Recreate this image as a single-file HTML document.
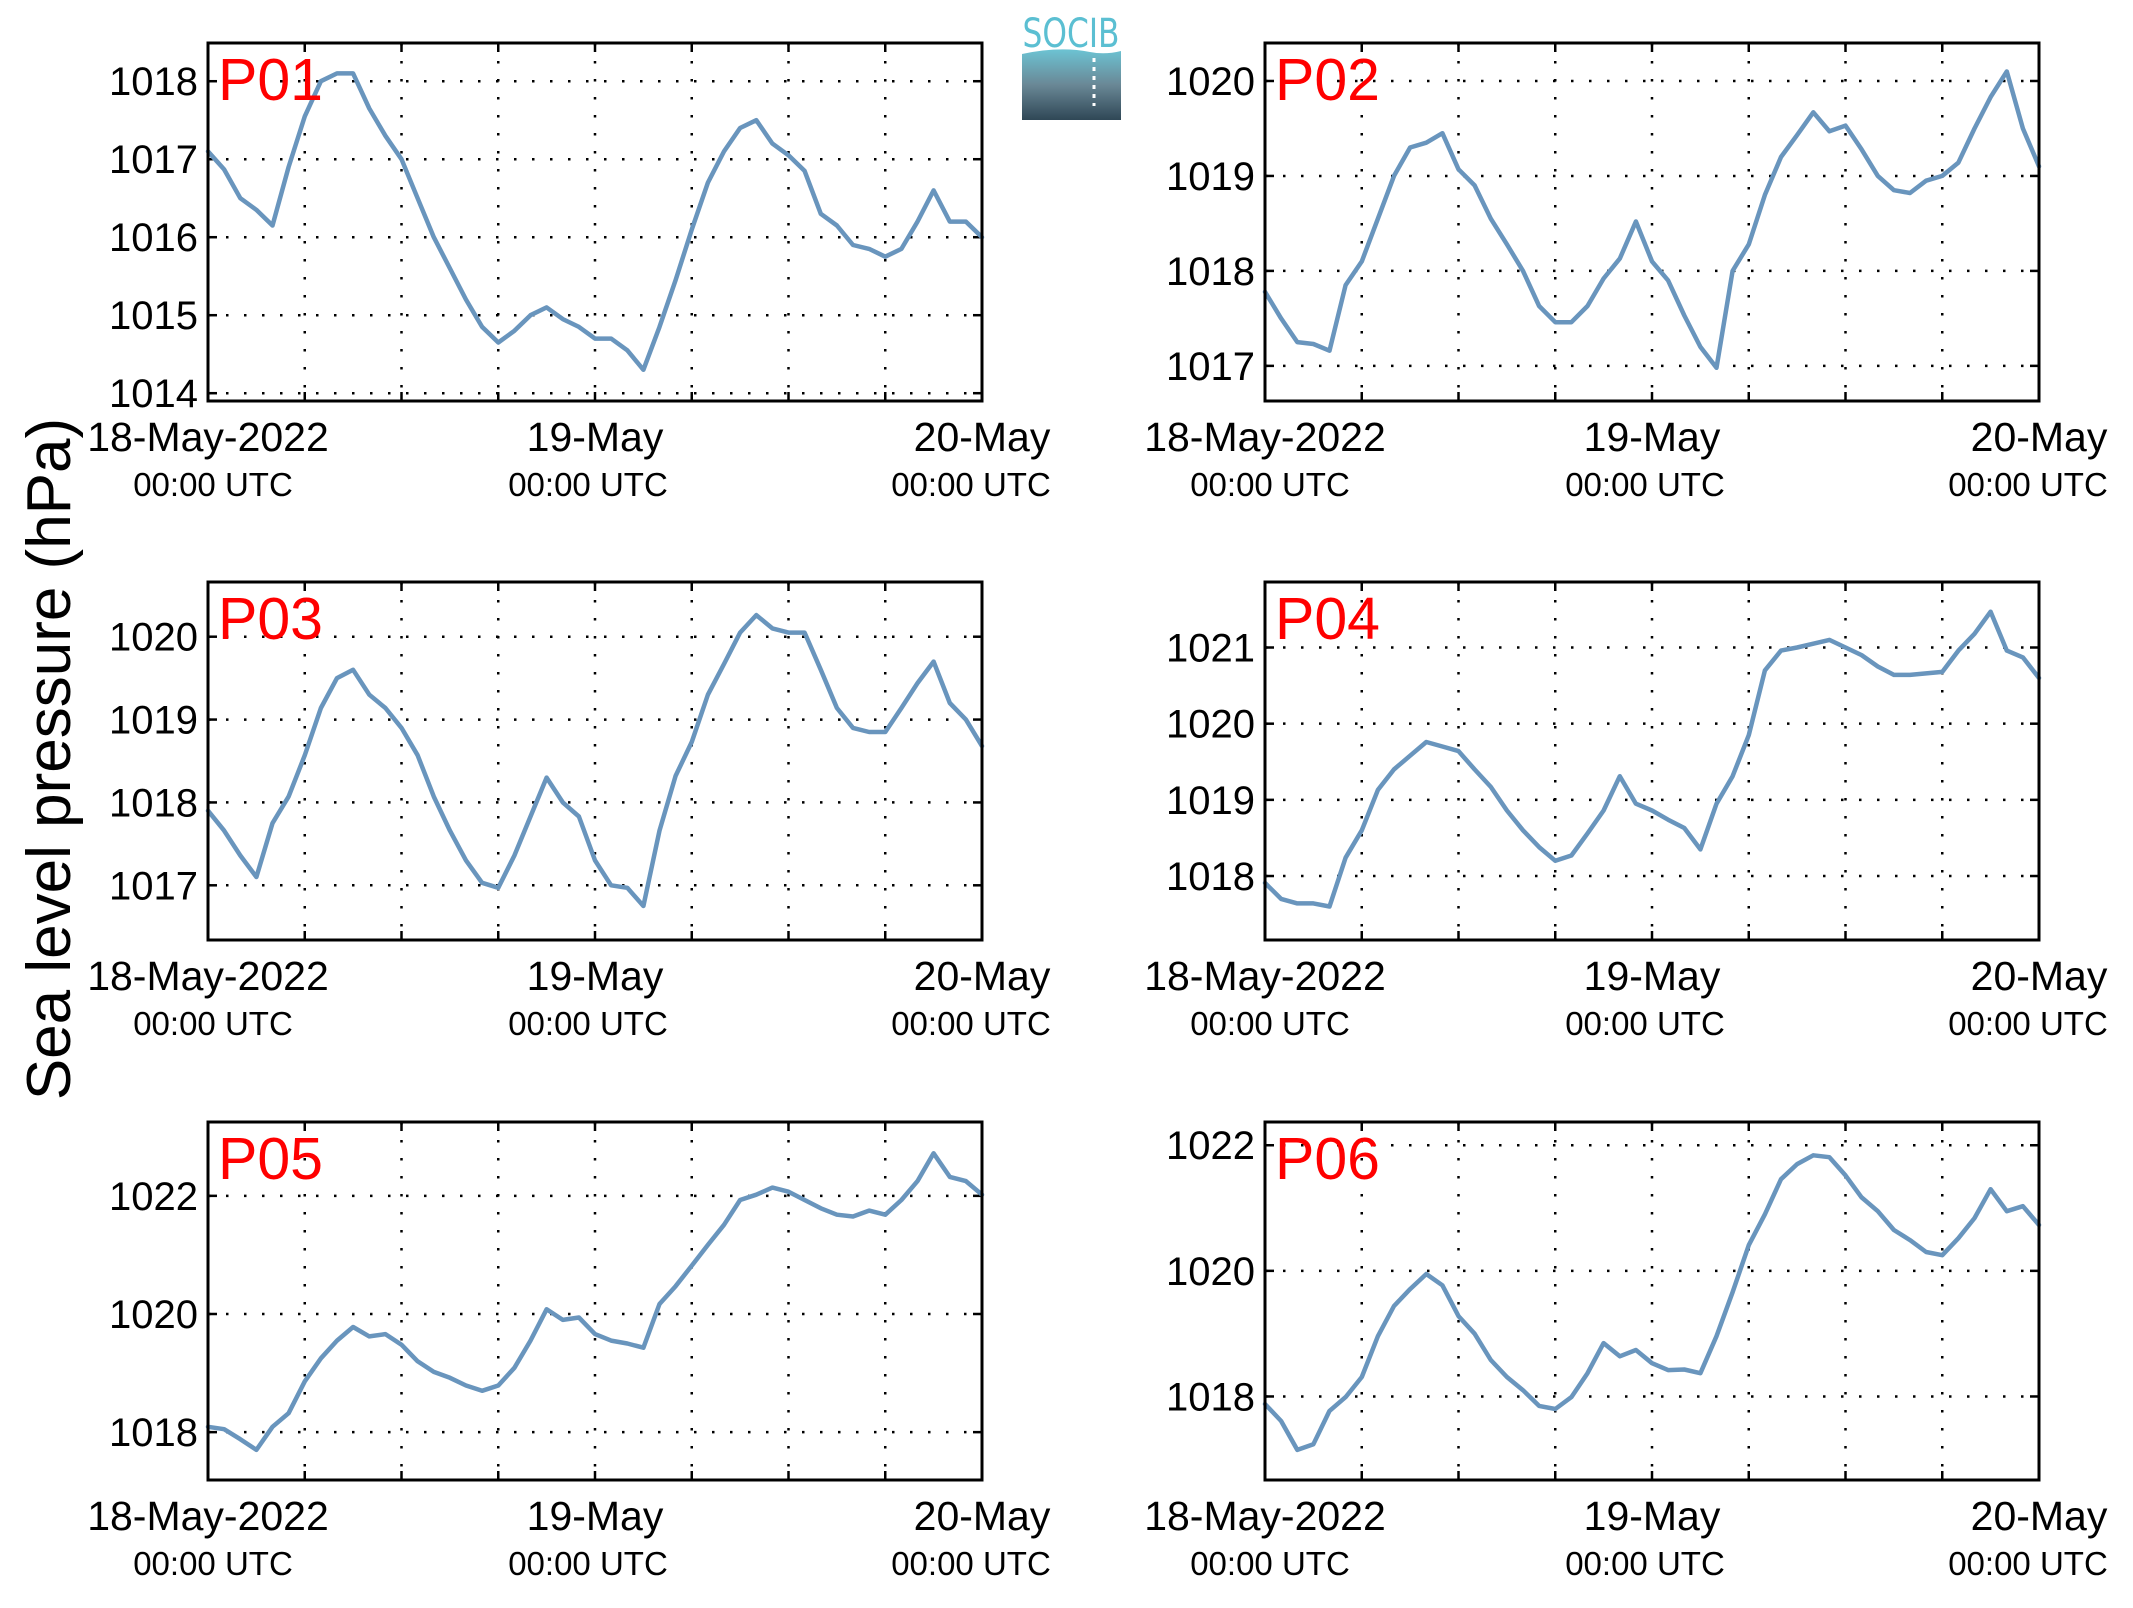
<!DOCTYPE html>
<html><head><meta charset="utf-8">
<style>
html,body{margin:0;padding:0;background:#fff;}
svg{display:block;font-family:"Liberation Sans",sans-serif;}
</style></head>
<body>
<svg id="fig" width="2133" height="1608" viewBox="0 0 2133 1608" xmlns="http://www.w3.org/2000/svg">
<defs>
<linearGradient id="lg" x1="0" y1="0" x2="0" y2="1">
<stop offset="0" stop-color="#6cc3d3"/><stop offset="0.5" stop-color="#6a8896"/><stop offset="1" stop-color="#2f4756"/>
</linearGradient>
</defs>
<g>
<text x="1071" y="47" font-size="40" fill="#5bbfd2" text-anchor="middle" font-family="DejaVu Sans, sans-serif" textLength="97" lengthAdjust="spacingAndGlyphs">SOCIB</text>
<path d="M1022 54 Q1060 46 1090 52 Q1105 55 1121 51 L1121 120 L1022 120 Z" fill="url(#lg)"/>
<line x1="1094" y1="58" x2="1094" y2="106" stroke="#fff" stroke-width="3" stroke-dasharray="4,5"/>
</g>
<text x="0" y="0" font-size="62" fill="#000" text-anchor="middle" transform="translate(70,759) rotate(-90)">Sea level pressure (hPa)</text>
<g id="panels"></g>
</svg>
<script>
const hours = [0,1,2,3,4,5,6,7,8,9,10,11,12,13,14,15,16,17,18,19,20,21,22,23,24,25,26,27,28,29,30,31,32,33,34,35,36,37,38,39,40,41,42,43,44,45,46,47,48];
const xTickHours = [0,24,48];
const xTickLabels = ["18-May-2022","19-May","20-May"];
const xTickSub = ["00:00 UTC","00:00 UTC","00:00 UTC"];
const panelNames = ["P01","P02","P03","P04","P05","P06"];
const p01 = [1017.1,1016.87,1016.5,1016.35,1016.15,1016.9,1017.55,1018.0,1018.1,1018.1,1017.65,1017.3,1017.0,1016.5,1016.0,1015.6,1015.2,1014.85,1014.65,1014.8,1015.0,1015.1,1014.95,1014.85,1014.7,1014.7,1014.55,1014.3,1014.85,1015.45,1016.1,1016.7,1017.1,1017.4,1017.5,1017.2,1017.05,1016.85,1016.3,1016.15,1015.9,1015.85,1015.75,1015.85,1016.2,1016.6,1016.2,1016.2,1016.0];
const p02 = [1017.78,1017.5,1017.25,1017.23,1017.16,1017.85,1018.1,1018.55,1019.0,1019.3,1019.35,1019.45,1019.07,1018.9,1018.55,1018.28,1018.0,1017.63,1017.46,1017.46,1017.63,1017.92,1018.13,1018.52,1018.1,1017.9,1017.53,1017.2,1016.98,1018.0,1018.28,1018.8,1019.2,1019.43,1019.67,1019.47,1019.53,1019.28,1019.0,1018.85,1018.82,1018.95,1019.0,1019.14,1019.5,1019.83,1020.1,1019.5,1019.1];
const p03 = [1017.9,1017.66,1017.36,1017.1,1017.75,1018.07,1018.57,1019.14,1019.5,1019.6,1019.3,1019.14,1018.9,1018.57,1018.07,1017.66,1017.3,1017.03,1016.97,1017.36,1017.83,1018.3,1018.0,1017.83,1017.3,1017.0,1016.97,1016.75,1017.66,1018.32,1018.73,1019.3,1019.67,1020.05,1020.26,1020.1,1020.05,1020.05,1019.6,1019.14,1018.9,1018.85,1018.85,1019.14,1019.44,1019.7,1019.2,1019.0,1018.68];
const p04 = [1017.91,1017.7,1017.64,1017.64,1017.6,1018.24,1018.6,1019.13,1019.4,1019.58,1019.76,1019.7,1019.64,1019.4,1019.17,1018.86,1018.6,1018.38,1018.2,1018.27,1018.56,1018.86,1019.31,1018.95,1018.86,1018.74,1018.63,1018.35,1018.95,1019.31,1019.85,1020.7,1020.96,1021.0,1021.05,1021.1,1021.0,1020.9,1020.75,1020.64,1020.64,1020.66,1020.68,1020.96,1021.18,1021.47,1020.96,1020.87,1020.6];
const p05 = [1018.09,1018.05,1017.88,1017.7,1018.09,1018.32,1018.86,1019.25,1019.55,1019.78,1019.62,1019.66,1019.48,1019.2,1019.02,1018.92,1018.79,1018.7,1018.79,1019.09,1019.55,1020.08,1019.9,1019.94,1019.66,1019.55,1019.5,1019.43,1020.17,1020.47,1020.82,1021.17,1021.51,1021.93,1022.02,1022.14,1022.07,1021.93,1021.79,1021.68,1021.65,1021.75,1021.68,1021.93,1022.25,1022.72,1022.32,1022.25,1022.02];
const p06 = [1017.88,1017.61,1017.15,1017.24,1017.77,1017.99,1018.31,1018.96,1019.44,1019.71,1019.95,1019.77,1019.28,1019.0,1018.58,1018.31,1018.1,1017.85,1017.8,1017.99,1018.37,1018.85,1018.64,1018.74,1018.53,1018.42,1018.43,1018.37,1018.96,1019.66,1020.41,1020.9,1021.46,1021.7,1021.84,1021.81,1021.52,1021.17,1020.95,1020.65,1020.49,1020.3,1020.25,1020.52,1020.84,1021.3,1020.95,1021.03,1020.73];
const series = [p01,p02,p03,p04,p05,p06];
const yMins = [1013.9,1016.63,1016.34,1017.16,1017.19,1016.67];
const yMaxs = [1018.49,1020.4,1020.66,1021.86,1023.25,1022.37];
const yTicks = [[1014,1015,1016,1017,1018],[1017,1018,1019,1020],[1017,1018,1019,1020],[1018,1019,1020,1021],[1018,1020,1022],[1018,1020,1022]];

const NS="http://www.w3.org/2000/svg";
const root=document.getElementById('panels');
function mk(tag,attrs,parent){const e=document.createElementNS(NS,tag);for(const k in attrs)e.setAttribute(k,attrs[k]);parent.appendChild(e);return e;}
const lefts=[208,1265], tops=[43,582,1122], W=774, H=358;
const subShift=[5,-7,-11];
for(let p=0;p<6;p++){
  const L=lefts[p%2], T=tops[Math.floor(p/2)], R=L+W, B=T+H;
  const xs=h=>L+h/48*W;
  const ys=v=>B-(v-yMins[p])/(yMaxs[p]-yMins[p])*H;
  const g=mk('g',{},root);
  
  
  for(let h=6;h<48;h+=6){
    const x=xs(h);
    const gl=mk('line',{x1:x,y1:T,x2:x,y2:B,stroke:'#000','stroke-width':2.5,'stroke-dasharray':'2.5,15.5'},g);
    
    
    mk('line',{x1:x,y1:B,x2:x,y2:B-9,stroke:'#000','stroke-width':2.5},g);
    mk('line',{x1:x,y1:T,x2:x,y2:T+9,stroke:'#000','stroke-width':2.5},g);
  }
  for(const v of yTicks[p]){
    const y=ys(v);
    const gl=mk('line',{x1:L,y1:y,x2:R,y2:y,stroke:'#000','stroke-width':2.5,'stroke-dasharray':'2.5,15.5'},g);
    
    
    mk('line',{x1:L,y1:y,x2:L+9,y2:y,stroke:'#000','stroke-width':2.5},g);
    mk('line',{x1:R,y1:y,x2:R-9,y2:y,stroke:'#000','stroke-width':2.5},g);
    const t=mk('text',{x:L-10,y:y+14,'font-size':40,'text-anchor':'end',fill:'#000'},g);
    t.textContent=v;
    
    
  }
  xTickHours.forEach((h,i)=>{
    const x=xs(h);
    const t=mk('text',{x:x,y:B+50,'font-size':41,'text-anchor':'middle',fill:'#000'},g);
    t.textContent=xTickLabels[i];
    
    
    const s=mk('text',{x:x+subShift[i],y:B+95,'font-size':33,'text-anchor':'middle',fill:'#000'},g);
    s.textContent=xTickSub[i];
    
    
  });
  const d=series[p].map((v,i)=>(i?'L':'M')+xs(hours[i]).toFixed(1)+' '+ys(v).toFixed(1)).join(' ');
  const line=mk('path',{d:d,fill:'none',stroke:'#6995bd','stroke-width':4.5,'stroke-linejoin':'round','stroke-linecap':'round'},g);
  
  
  const fr=mk('rect',{x:L,y:T,width:W,height:H,fill:'none',stroke:'#000','stroke-width':3},g);
  
  
  const lab=mk('text',{x:L+10,y:T+57,'font-size':59,fill:'#ff0000'},g);
  lab.textContent=panelNames[p];
  
  
}
</script>
</body></html>
